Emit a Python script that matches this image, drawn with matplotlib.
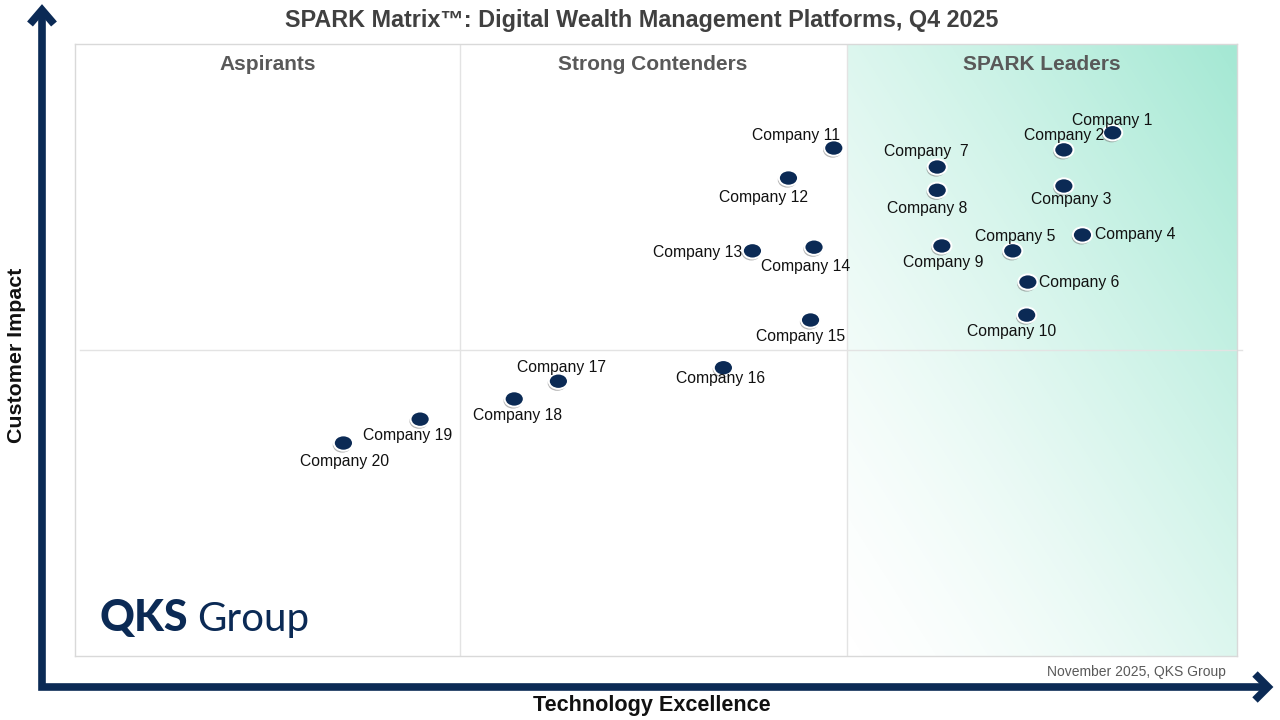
"""SPARK Matrix quadrant chart: Digital Wealth Management Platforms, Q4 2025."""

import matplotlib

matplotlib.use("Agg")
import matplotlib.patheffects as pe  # noqa: E402
import matplotlib.pyplot as plt  # noqa: E402
import numpy as np  # noqa: E402
from matplotlib.path import Path  # noqa: E402
from matplotlib.transforms import Affine2D  # noqa: E402

plt.rcParams["font.family"] = ["Liberation Sans", "DejaVu Sans"]

NAVY = "#0b2a55"
TEAL = np.array([0.64, 0.91, 0.83])

COMPANIES = [
    "Company 1", "Company 2", "Company 3", "Company 4", "Company 5",
    "Company 6", "Company  7", "Company 8", "Company 9", "Company 10",
    "Company 11", "Company 12", "Company 13", "Company 14", "Company 15",
    "Company 16", "Company 17", "Company 18", "Company 19", "Company 20",
]
TECH_EXCELLENCE = [89.3, 85.1, 85.1, 86.7, 80.7, 82.0, 74.2, 74.2, 74.6, 81.9,
                   65.3, 61.4, 58.3, 63.6, 63.3, 55.8, 41.6, 37.8, 29.7, 23.1]
CUSTOMER_IMPACT = [85.5, 82.7, 76.8, 68.8, 66.2, 61.1, 79.9, 76.1, 67.0, 55.7,
                   83.0, 78.1, 66.2, 66.8, 54.9, 47.1, 44.9, 42.0, 38.7, 34.8]
QUADRANTS = ["Aspirants", "Strong Contenders", "SPARK Leaders"]
DIVIDERS_X = [33.1, 66.4]

# label placement: (dx, dy) in points, horizontal alignment
LABEL_OFFSETS = [
    (0, 9, "center"), (0, 10, "center"), (5, -10, "center"), (9, 0, "left"),
    (2, 10, "center"), (8, 0, "left"), (-8, 11, "center"), (-7, -13, "center"),
    (1, -12, "center"), (-11, -12, "center"), (-27, 9, "center"), (-18, -14, "center"),
    (-7, -1, "right"), (-6, -14, "center"), (-7, -12, "center"), (-2, -8, "center"),
    (2, 10, "center"), (2, -12, "center"), (-9, -12, "center"), (1, -13, "center"),
]


def main() -> None:
    fig = plt.figure(figsize=(12.8, 7.2), dpi=100)

    # background layer for arrows, in pixel coordinates
    bg = fig.add_axes([0, 0, 1, 1])
    bg.set_xlim(0, 1280)
    bg.set_ylim(720, 0)
    bg.axis("off")
    arrow_kw = dict(color=NAVY, linewidth=5.5, solid_capstyle="butt", solid_joinstyle="miter")
    bg.plot([42, 42, 1266], [14, 687, 687], **arrow_kw)
    bg.plot([30, 42, 54], [24, 10, 24], **arrow_kw)
    bg.plot([1255, 1268, 1255], [674, 687, 700], **arrow_kw)

    ax = fig.add_axes([75 / 1280, 64 / 720, 1162 / 1280, 612 / 720])
    ax.set_xlim(0, 100)
    ax.set_ylim(0, 100)
    ax.set_xticks([])
    ax.set_yticks([])
    for sp in ax.spines.values():
        sp.set_color("#d9d9d9")
        sp.set_linewidth(1.0)

    # leaders gradient
    nx, ny = 200, 300
    u = np.linspace(0, 1, nx)[None, :]
    v = np.linspace(1, 0, ny)[:, None]
    t = ((u + v) / 2.0) ** 1.4
    img = np.ones((ny, nx, 4))
    img[..., :3] = TEAL
    img[..., 3] = t
    ax.imshow(img, extent=[DIVIDERS_X[1], 100, 0, 100], aspect="auto", zorder=0,
              interpolation="bilinear")

    for xd in DIVIDERS_X:
        ax.axvline(xd, color="#e3e3e3", linewidth=1.0, zorder=1)
    ax.plot([0.4, 100.4], [50, 50], color="#e3e3e3", linewidth=1.0, zorder=1, clip_on=False)

    bounds = [0] + DIVIDERS_X + [100]
    for i, name in enumerate(QUADRANTS):
        ax.text((bounds[i] + bounds[i + 1]) / 2, 96.7, name, ha="center", va="center",
                fontsize=15, fontweight="bold", color="#595959")

    marker = Path.unit_circle().transformed(Affine2D().scale(1.0, 0.8))
    sc = ax.scatter(TECH_EXCELLENCE, CUSTOMER_IMPACT, s=190, marker=marker,
                    color=NAVY, edgecolors="white", linewidths=1.4, zorder=4)
    sc.set_path_effects([pe.SimplePatchShadow(offset=(-0.8, -1.4), shadow_rgbFace="#777777",
                                              alpha=0.55), pe.Normal()])

    for name, x, y, (dx, dy, ha) in zip(COMPANIES, TECH_EXCELLENCE, CUSTOMER_IMPACT,
                                        LABEL_OFFSETS):
        ax.annotate(name, (x, y), xytext=(dx, dy), textcoords="offset points",
                    ha=ha, va="center", fontsize=11.3, color="#111111", zorder=5)

    ax.text(0.021, 0.041, "QKS", transform=ax.transAxes, fontsize=31, color=NAVY,
            family=["Lato", "Liberation Sans"], fontweight="black", va="baseline", ha="left")
    ax.text(0.105, 0.041, "Group", transform=ax.transAxes, fontsize=29, color=NAVY,
            family=["Lato", "Liberation Sans"], fontweight="normal", va="baseline", ha="left")

    fig.text(642 / 1280, 1 - 20 / 720, "SPARK Matrix\u2122: Digital Wealth Management Platforms, Q4 2025",
             ha="center", va="center", fontsize=16.8, fontweight="bold", color="#404040")
    fig.text(652 / 1280, 1 - 705 / 720, "Technology Excellence", ha="center", va="center",
             fontsize=15.6, fontweight="bold", color="#111111")
    fig.text(17 / 1280, 1 - 355 / 720, "Customer Impact", ha="center", va="center",
             rotation=90, fontsize=15.4, fontweight="bold", color="#111111")
    fig.text(1226 / 1280, 1 - 672 / 720, "November 2025, QKS Group", ha="right", va="center",
             fontsize=10, color="#595959")

    fig.savefig("out.png", dpi=100)


if __name__ == "__main__":
    main()
